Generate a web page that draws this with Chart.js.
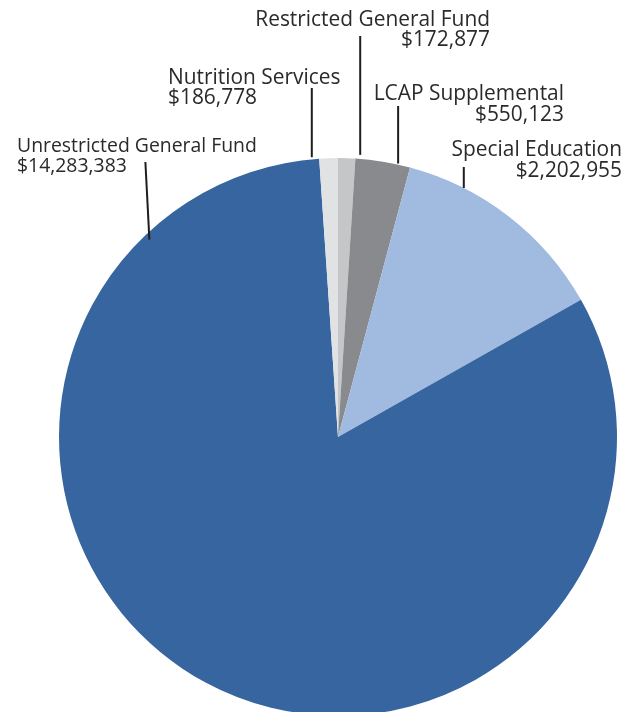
<!DOCTYPE html>
<html>
<head>
<meta charset="utf-8">
<script src="https://cdn.jsdelivr.net/npm/chart.js@4"></script>
<style>
  html, body { margin: 0; padding: 0; background: #fff; overflow: hidden; }
  #wrap { width: 634px; height: 712px; overflow: hidden; }
  #wrap canvas { display: block; }
</style>
</head>
<body>
<div id="wrap"><canvas id="fund-pie" width="634" height="716"></canvas></div>
<script>
// Funding sources, in drawing order clockwise from the top
const funds = ['Restricted General Fund', 'LCAP Supplemental', 'Special Education', 'Unrestricted General Fund', 'Nutrition Services'];
const amounts = [172877, 550123, 2202955, 14283383, 186778];
const sliceColors = ['#c5c6c8', '#898a8e', '#a1bbe0', '#36659f', '#e1e2e4'];

function formatDollars(value) {
    return '$' + value.toLocaleString('en-US');
}

// Callout placement for each slice: where the leader touches the rim (deg from top),
// how far above the rim it stops, where it ends, and where the two text lines sit
const callouts = [
    { angle: 4.5,   gap: 4,  topY: 36,  topDx: 0,  x: 490, y: 26,  align: 'right', size: 20.9, lead: 20 },
    { angle: 12.4,  gap: 1,  topY: 106, topDx: 0,  x: 564, y: 100, align: 'right', size: 20.9, lead: 21 },
    { angle: 26.8,  gap: 0,  topY: 167, topDx: 0,  x: 622, y: 156, align: 'right', size: 20.9, lead: 21 },
    { angle: -43.7, gap: -6, topY: 162, topDx: -4, x: 17,  y: 152, align: 'left',  size: 19.4, lead: 20 },
    { angle: -5.35, gap: 2,  topY: 88,  topDx: 0,  x: 168, y: 84,  align: 'left',  size: 20.9, lead: 20 }
];

const calloutPlugin = {
    id: 'callouts',
    afterDraw(chart) {
        const ctx = chart.ctx;
        const arc = chart.getDatasetMeta(0).data[0];
        const cx = arc.x, cy = arc.y, r = arc.outerRadius;
        ctx.save();
        callouts.forEach((c, i) => {
            const a = c.angle * Math.PI / 180;
            const bx = cx + Math.sin(a) * (r + c.gap);
            const by = cy - Math.cos(a) * (r + c.gap);
            ctx.strokeStyle = '#1e1e1e';
            ctx.lineWidth = 2;
            ctx.beginPath();
            ctx.moveTo(bx + c.topDx, c.topY);
            ctx.lineTo(bx, by);
            ctx.stroke();

            ctx.fillStyle = '#2a2a2a';
            ctx.font = c.size + 'px "Open Sans"';
            ctx.textAlign = c.align;
            ctx.textBaseline = 'alphabetic';
            ctx.fillText(funds[i], c.x, c.y);
            ctx.fillText(formatDollars(amounts[i]), c.x, c.y + c.lead);
        });
        ctx.restore();
    }
};

const ctx = document.getElementById('fund-pie').getContext('2d');
const fundChart = new Chart(ctx, {
    type: 'pie',
    data: {
        labels: funds,
        datasets: [{
            data: amounts,
            backgroundColor: sliceColors,
            borderWidth: 0
        }]
    },
    options: {
        responsive: false,
        animation: false,
        layout: {
            padding: { left: 59, right: 17, top: 158, bottom: 0 }
        },
        plugins: {
            legend: { display: false },
            tooltip: { enabled: false }
        }
    },
    plugins: [calloutPlugin]
});
</script>
</body>
</html>
